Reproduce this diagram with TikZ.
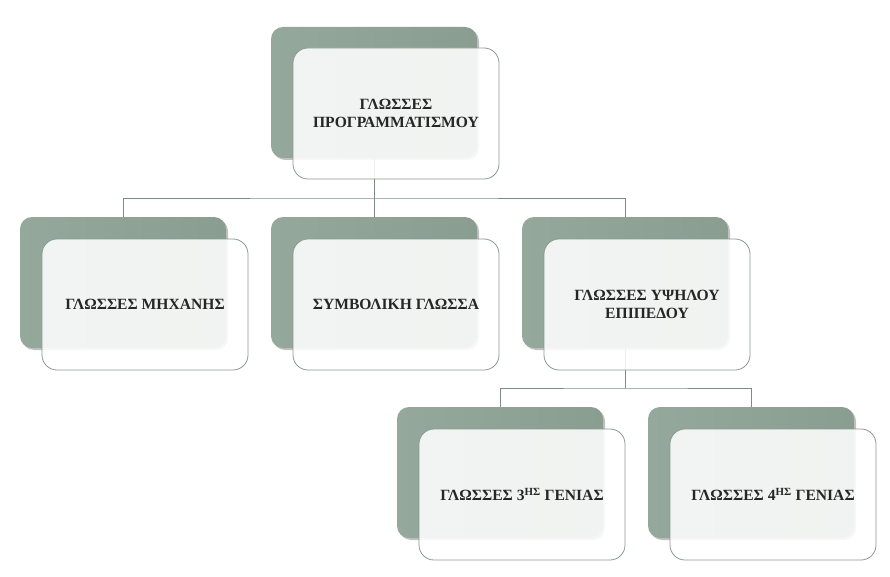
\documentclass[tikz,border=0pt]{standalone}
\usepackage{fontspec}
\setmainfont{Liberation Serif}
\usetikzlibrary{shadows}
\definecolor{backgreen}{HTML}{8A9D91}
\definecolor{backgreenL}{HTML}{95A89C}
\definecolor{edgegreen}{HTML}{8A9A90}
\definecolor{linegreen}{HTML}{7D8D83}
\definecolor{txt}{HTML}{262626}
\tikzset{
  backbox/.style={draw=none, left color=backgreenL, right color=backgreen, rounded corners=12pt,
    minimum width=206pt, minimum height=131pt, inner sep=0pt,
    drop shadow={shadow xshift=2pt, shadow yshift=-2pt, opacity=0.35, fill=black!70}},
  frontbox/.style={draw=edgegreen, line width=0.8pt, fill=white, fill opacity=0.88, text opacity=1,
    rounded corners=15pt, minimum width=206pt, minimum height=131pt, inner sep=0pt,
    align=center, text=txt, font=\fontsize{15.6pt}{18.8pt}\selectfont\bfseries},
  conn/.style={draw=linegreen, line width=0.9pt}
}
\begin{document}
\begin{tikzpicture}[x=1pt,y=-1pt]
\useasboundingbox (0,0) rectangle (890,577);
% back boxes
\node[backbox] (b0) at (374,92.5) {};
\node[backbox] (b1) at (123,282.5) {};
\node[backbox] (b2) at (374,282.5) {};
\node[backbox] (b3) at (625,282.5) {};
\node[backbox] (b4) at (500,472.5) {};
\node[backbox] (b5) at (751,472.5) {};
% connectors
\coordinate (j0) at (374,198);
\coordinate (j3) at (625,388);
\draw[conn] (b0.south) -- (j0);
\draw[conn] (b1.north) |- (j0) -| (b3.north);
\draw[conn] (j0) -- (b2.north);
\draw[conn] (b3.south) -- (j3);
\draw[conn] (b4.north) |- (j3) -| (b5.north);
% front boxes
\node[frontbox] (f0) at (396,113.5) {ΓΛΩΣΣΕΣ\\ΠΡΟΓΡΑΜΜΑΤΙΣΜΟΥ};
\node[frontbox] (f1) at (145,304.5) {ΓΛΩΣΣΕΣ ΜΗΧΑΝΗΣ};
\node[frontbox] (f2) at (396,304.5) {ΣΥΜΒΟΛΙΚΗ ΓΛΩΣΣΑ};
\node[frontbox] (f3) at (647,304.5) {ΓΛΩΣΣΕΣ ΥΨΗΛΟΥ\\ΕΠΙΠΕΔΟΥ};
\node[frontbox] (f4) at (522,494.5) {ΓΛΩΣΣΕΣ 3\textsuperscript{ΗΣ} ΓΕΝΙΑΣ};
\node[frontbox] (f5) at (773,494.5) {ΓΛΩΣΣΕΣ 4\textsuperscript{ΗΣ} ΓΕΝΙΑΣ};
\end{tikzpicture}
\end{document}
